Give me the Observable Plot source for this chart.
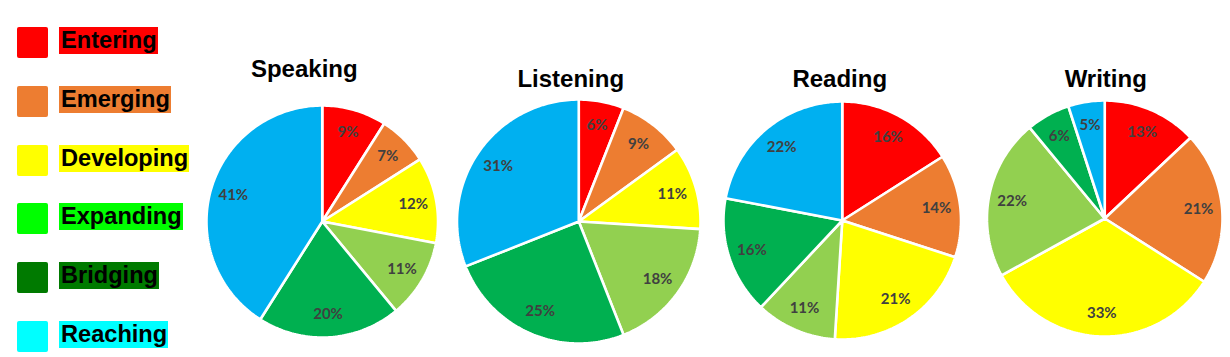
<!DOCTYPE html>
<html><head><meta charset="utf-8">
<script src="https://cdn.jsdelivr.net/npm/d3@7"></script>
<script src="https://cdn.jsdelivr.net/npm/@observablehq/plot@0.6"></script>
<style>
body{margin:0;background:#fff;}
#wrap{position:relative;width:1230px;height:357px;overflow:hidden;}
#chart{position:absolute;left:0;top:0;}
#legend{position:absolute;left:0;top:0;}
.row{position:absolute;left:17px;height:31px;}
.sw{position:absolute;left:0;top:0;width:31px;height:31px;border-radius:2px;}
.lb{position:absolute;left:42px;top:0;height:27px;line-height:28px;font:bold 23.6px "Liberation Sans",Arial,sans-serif;padding:0 1px 0 2px;white-space:nowrap;color:#000;}
</style></head><body>
<div id="wrap"><div id="chart"></div><div id="legend"></div></div>
<script>
// ---- data ----
const levels = ["Entering","Emerging","Developing","Expanding","Bridging","Reaching"];
const skills = ["Speaking","Listening","Reading","Writing"];
const speaking  = [9, 7, 12, 11, 20, 41];
const listening = [6, 9, 11, 18, 25, 31];
const reading   = [16, 14, 21, 11, 16, 22];
const writing   = [13, 21, 33, 22, 6, 5];

// ---- styles / layout ----
const pieColors    = ["#ff0000","#ed7d31","#ffff00","#92d050","#00b050","#00b0f0"];
const legendColors = ["#ff0000","#ed7d31","#ffff00","#00ff00","#007a00","#00ffff"];
const layout = {
  Speaking:  {dx:-0.75, cy:-1, r:116, tx:-18.75, ty:150.7},
  Listening: {dx:-3.25, cy:-1, r:122, tx:-11.25, ty:140.7},
  Reading:   {dx: 1.25, cy: 0, r:119, tx:-1.25,  ty:140.7},
  Writing:   {dx: 4.75, cy: 2, r:118, tx: 5.75,  ty:140.7}
};

const series = {Speaking: speaking, Listening: listening, Reading: reading, Writing: writing};
const rows = [], labels = [];
for (const s of skills) {
  const vals = series[s];
  const L = layout[s];
  const arcs = d3.pie().sort(null)(vals);
  arcs.forEach((a, i) => {
    const key = s + "-" + levels[i];
    rows.push({skill: s, level: levels[i], key, x: L.dx, y: L.cy});
    const n = Math.max(2, Math.ceil((a.endAngle - a.startAngle) / 0.02));
    for (let k = 0; k <= n; k++) {
      const t = a.startAngle + (a.endAngle - a.startAngle) * k / n;
      rows.push({skill: s, level: levels[i], key, x: L.dx + L.r * Math.sin(t), y: L.cy + L.r * Math.cos(t)});
    }
    const m = (a.startAngle + a.endAngle) / 2;
    labels.push({skill: s, text: vals[i] + "%", x: L.dx + 0.8 * L.r * Math.sin(m), y: L.cy + 0.8 * L.r * Math.cos(m)});
  });
}

const chart = Plot.plot({
  width: 1230, height: 357,
  marginLeft: 192, marginRight: 0, marginTop: 0, marginBottom: 0,
  fx: {domain: skills, padding: 0, axis: null},
  x: {domain: [-129.75, 129.75], axis: null},
  y: {domain: [-137, 220], axis: null},
  color: {domain: levels, range: pieColors},
  marks: [
    Plot.line(rows, {x: "x", y: "y", z: "key", fx: "skill", fill: "level", stroke: "white",
      strokeWidth: 2.6, strokeLinejoin: "miter", curve: "linear-closed"}),
    Plot.text(labels, {x: "x", y: "y", fx: "skill", text: "text", fill: "#404040",
      fontWeight: "bold", fontSize: 15, fontFamily: "Lato, 'Open Sans', sans-serif"}),
    Plot.text(skills, {fx: d => d, x: d => layout[d].tx, y: d => layout[d].ty, text: d => d,
      fill: "#000", fontWeight: "bold", fontSize: 24, fontFamily: "'Liberation Sans', Arial, sans-serif"})
  ]
});
document.getElementById("chart").appendChild(chart);

// ---- legend ----
const leg = document.getElementById("legend");
levels.forEach((lv, i) => {
  const row = document.createElement("div");
  row.className = "row";
  row.style.top = (27 + i * 58.8) + "px";
  const sw = document.createElement("div");
  sw.className = "sw";
  sw.style.background = legendColors[i];
  const lb = document.createElement("div");
  lb.className = "lb";
  lb.style.background = legendColors[i];
  lb.textContent = lv;
  row.appendChild(sw); row.appendChild(lb);
  leg.appendChild(row);
});
</script>
</body></html>
